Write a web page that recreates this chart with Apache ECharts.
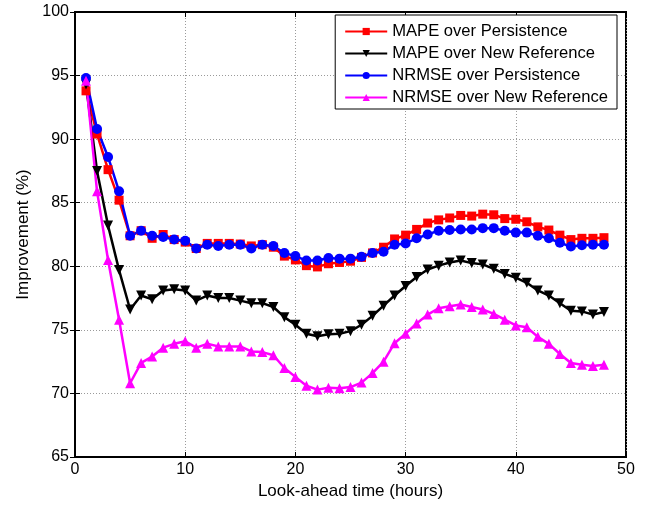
<!DOCTYPE html>
<html><head><meta charset="utf-8">
<script src="https://cdn.jsdelivr.net/npm/echarts@6/dist/echarts.min.js"></script>
<style>html,body{margin:0;padding:0;background:#fff}#c{width:660px;height:508px}</style>
</head><body><div id="c"></div>
<script>
const hours = Array.from({length:48},(_,i)=>i+1);
const mapePersistence = [93.8,90.4,87.6,85.2,82.4,82.8,82.2,82.5,82.1,81.9,81.4,81.8,81.8,81.8,81.75,81.6,81.7,81.5,80.8,80.5,80.05,79.95,80.2,80.3,80.4,80.7,81.05,81.5,82.15,82.45,82.9,83.4,83.65,83.8,84.0,83.95,84.1,84.05,83.75,83.7,83.5,83.1,82.85,82.45,82.1,82.2,82.2,82.25];
const mapeNewRef = [94.3,87.5,83.2,79.7,76.6,77.7,77.4,78.1,78.2,78.1,77.3,77.7,77.5,77.5,77.3,77.1,77.1,76.8,76.0,75.4,74.7,74.5,74.65,74.7,74.9,75.4,76.1,76.9,77.7,78.45,79.15,79.75,80.05,80.3,80.45,80.25,80.15,79.8,79.4,79.1,78.7,78.1,77.7,77.1,76.5,76.45,76.2,76.4];
const nrmsePersistence = [94.8,90.8,88.6,85.9,82.4,82.8,82.4,82.3,82.1,82.0,81.4,81.7,81.6,81.7,81.7,81.4,81.7,81.6,81.05,80.8,80.45,80.45,80.65,80.6,80.6,80.75,81.05,81.15,81.7,81.8,82.2,82.5,82.8,82.85,82.9,82.9,83.0,83.0,82.8,82.65,82.65,82.4,82.2,81.85,81.55,81.65,81.7,81.7];
const nrmseNewRef = [94.6,85.9,80.5,75.8,70.8,72.4,72.9,73.6,73.9,74.1,73.6,73.9,73.7,73.7,73.7,73.3,73.25,73.0,72.0,71.3,70.6,70.3,70.45,70.4,70.5,70.85,71.6,72.5,73.95,74.7,75.5,76.2,76.7,76.85,77.0,76.8,76.6,76.25,75.8,75.35,75.2,74.45,73.9,73.1,72.4,72.25,72.15,72.25];
const seriesNames = ['MAPE over Persistence','MAPE over New Reference','NRMSE over Persistence','NRMSE over New Reference'];
const xTicks = [0,10,20,30,40,50];
const yTicks = [65,70,75,80,85,90,95,100];

const font = 'Liberation Sans, Arial, sans-serif';
const chart = echarts.init(document.getElementById('c'), null, {renderer:'canvas'});
const gridLine = {show:true, lineStyle:{color:'#9a9a9a', type:[1,2], width:1}};
function mk(name, data, color, symbol, size){
  return {name, type:'line', data: hours.map((h,i)=>[h,data[i]]), symbol, symbolSize:size,
    itemStyle:{color}, lineStyle:{color, width:2.5}, showSymbol:true, animation:false, z:2};
}
chart.setOption({
  animation:false,
  backgroundColor:'#fff',
  grid:{left:75, right:34, top:12, bottom:51, show:true, borderColor:'#000', borderWidth:2, backgroundColor:'transparent'},
  legend:{
    data:seriesNames, orient:'vertical', right:43, top:15, left:'auto',
    backgroundColor:'#fff', borderColor:'#000', borderWidth:1, borderRadius:0,
    padding:[8,9,3,9], itemGap:5, itemWidth:42, itemHeight:9,
    textStyle:{fontFamily:font, fontSize:16.6, color:'#000'}
  },
  xAxis:[{type:'value', min:0, max:50, interval:10,
    name:'Look-ahead time (hours)', nameLocation:'middle', nameGap:22,
    nameTextStyle:{fontFamily:font, fontSize:17, color:'#000'},
    axisLine:{show:true, lineStyle:{color:'#000', width:2}, onZero:false},
    axisTick:{show:true, inside:true, length:5, lineStyle:{color:'#000'}},
    axisLabel:{fontFamily:font, fontSize:16, color:'#000', margin:5},
    splitLine:gridLine},
   {type:'value', position:'top', min:0, max:50, interval:10,
    axisLine:{show:true, lineStyle:{color:'#000', width:2}},
    axisTick:{show:true, inside:true, length:5, lineStyle:{color:'#000'}},
    axisLabel:{show:false}, splitLine:{show:false}}],
  yAxis:[{type:'value', min:65, max:100, interval:5,
    name:'Improvement (%)', nameLocation:'middle', nameGap:38,
    nameTextStyle:{fontFamily:font, fontSize:17, color:'#000'},
    axisLine:{show:true, lineStyle:{color:'#000', width:2}, onZero:false},
    axisTick:{show:true, inside:true, length:5, lineStyle:{color:'#000'}},
    axisLabel:{fontFamily:font, fontSize:16, color:'#000', margin:6},
    splitLine:gridLine},
   {type:'value', position:'right', min:65, max:100, interval:5,
    axisLine:{show:true, lineStyle:{color:'#000', width:2}},
    axisTick:{show:true, inside:true, length:5, lineStyle:{color:'#000'}},
    axisLabel:{show:false}, splitLine:{show:false}}],
  series:[
    mk(seriesNames[0], mapePersistence, '#ff0000', 'rect', 9),
    mk(seriesNames[1], mapeNewRef, '#000000', 'path://M0,0 L10,0 L5,9 Z', 10),
    mk(seriesNames[2], nrmsePersistence, '#0000ff', 'circle', 10),
    mk(seriesNames[3], nrmseNewRef, '#ff00ff', 'triangle', 10)
  ]
});
</script></body></html>
